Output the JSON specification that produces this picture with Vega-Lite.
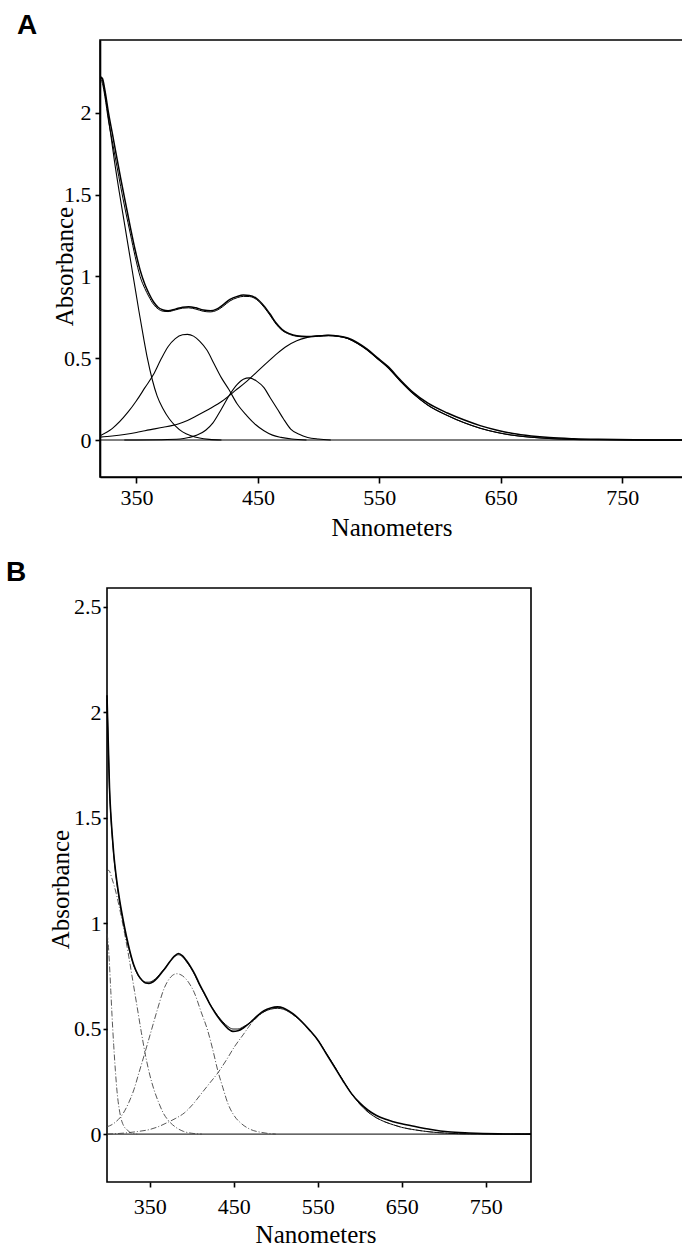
{
  "$schema": "https://vega.github.io/schema/vega-lite/v6.json",
  "background": "white",
  "padding": {"left": 6, "top": 11, "right": 0, "bottom": 0},
  "spacing": 17,
  "datasets": {
    "A": [
      {"s":"zero","nm":320,"a":0},{"s":"zero","nm":800,"a":0},
      {"s":"total","nm":320,"a":2.22},{"s":"total","nm":322,"a":2.21},{"s":"total","nm":324,"a":2.14},{"s":"total","nm":327,"a":2.0},{"s":"total","nm":330,"a":1.88},{"s":"total","nm":334,"a":1.72},{"s":"total","nm":337,"a":1.6},{"s":"total","nm":341,"a":1.45},{"s":"total","nm":345,"a":1.3},{"s":"total","nm":349,"a":1.16},{"s":"total","nm":353,"a":1.04},{"s":"total","nm":357,"a":0.95},{"s":"total","nm":360,"a":0.9},{"s":"total","nm":364,"a":0.845},{"s":"total","nm":368,"a":0.81},{"s":"total","nm":372,"a":0.795},{"s":"total","nm":376,"a":0.79},{"s":"total","nm":382,"a":0.8},{"s":"total","nm":388,"a":0.812},{"s":"total","nm":393,"a":0.815},{"s":"total","nm":399,"a":0.808},{"s":"total","nm":405,"a":0.795},{"s":"total","nm":411,"a":0.79},{"s":"total","nm":416,"a":0.8},{"s":"total","nm":421,"a":0.825},{"s":"total","nm":427,"a":0.86},{"s":"total","nm":433,"a":0.878},{"s":"total","nm":438,"a":0.886},{"s":"total","nm":443,"a":0.884},{"s":"total","nm":449,"a":0.865},{"s":"total","nm":455,"a":0.82},{"s":"total","nm":460,"a":0.77},{"s":"total","nm":465,"a":0.715},{"s":"total","nm":470,"a":0.675},{"s":"total","nm":476,"a":0.65},{"s":"total","nm":482,"a":0.637},{"s":"total","nm":490,"a":0.632},{"s":"total","nm":500,"a":0.636},{"s":"total","nm":508,"a":0.64},{"s":"total","nm":516,"a":0.636},{"s":"total","nm":524,"a":0.624},{"s":"total","nm":532,"a":0.595},{"s":"total","nm":540,"a":0.555},{"s":"total","nm":548,"a":0.505},{"s":"total","nm":557,"a":0.45},{"s":"total","nm":567,"a":0.37},{"s":"total","nm":578,"a":0.29},{"s":"total","nm":590,"a":0.225},{"s":"total","nm":606,"a":0.165},{"s":"total","nm":620,"a":0.122},{"s":"total","nm":633,"a":0.088},{"s":"total","nm":647,"a":0.06},{"s":"total","nm":660,"a":0.04},{"s":"total","nm":675,"a":0.025},{"s":"total","nm":690,"a":0.015},{"s":"total","nm":710,"a":0.008},{"s":"total","nm":730,"a":0.004},{"s":"total","nm":760,"a":0.001},{"s":"total","nm":800,"a":0.0},
      {"s":"fit","nm":320,"a":2.21},{"s":"fit","nm":322,"a":2.18},{"s":"fit","nm":324,"a":2.1},{"s":"fit","nm":327,"a":1.95},{"s":"fit","nm":330,"a":1.83},{"s":"fit","nm":334,"a":1.67},{"s":"fit","nm":337,"a":1.55},{"s":"fit","nm":341,"a":1.4},{"s":"fit","nm":345,"a":1.26},{"s":"fit","nm":349,"a":1.12},{"s":"fit","nm":353,"a":1.0},{"s":"fit","nm":357,"a":0.925},{"s":"fit","nm":360,"a":0.88},{"s":"fit","nm":364,"a":0.83},{"s":"fit","nm":368,"a":0.8},{"s":"fit","nm":372,"a":0.787},{"s":"fit","nm":376,"a":0.785},{"s":"fit","nm":382,"a":0.795},{"s":"fit","nm":388,"a":0.806},{"s":"fit","nm":393,"a":0.808},{"s":"fit","nm":399,"a":0.8},{"s":"fit","nm":405,"a":0.787},{"s":"fit","nm":411,"a":0.783},{"s":"fit","nm":416,"a":0.792},{"s":"fit","nm":421,"a":0.815},{"s":"fit","nm":427,"a":0.85},{"s":"fit","nm":433,"a":0.87},{"s":"fit","nm":438,"a":0.878},{"s":"fit","nm":443,"a":0.877},{"s":"fit","nm":449,"a":0.858},{"s":"fit","nm":455,"a":0.812},{"s":"fit","nm":460,"a":0.762},{"s":"fit","nm":465,"a":0.708},{"s":"fit","nm":470,"a":0.67},{"s":"fit","nm":476,"a":0.646},{"s":"fit","nm":482,"a":0.634},{"s":"fit","nm":490,"a":0.63},{"s":"fit","nm":500,"a":0.634},{"s":"fit","nm":508,"a":0.637},{"s":"fit","nm":516,"a":0.633},{"s":"fit","nm":524,"a":0.62},{"s":"fit","nm":532,"a":0.59},{"s":"fit","nm":540,"a":0.55},{"s":"fit","nm":548,"a":0.5},{"s":"fit","nm":557,"a":0.443},{"s":"fit","nm":567,"a":0.362},{"s":"fit","nm":578,"a":0.282},{"s":"fit","nm":590,"a":0.213},{"s":"fit","nm":606,"a":0.15},{"s":"fit","nm":620,"a":0.105},{"s":"fit","nm":633,"a":0.072},{"s":"fit","nm":647,"a":0.046},{"s":"fit","nm":660,"a":0.029},{"s":"fit","nm":675,"a":0.017},{"s":"fit","nm":690,"a":0.009},{"s":"fit","nm":710,"a":0.004},{"s":"fit","nm":730,"a":0.002},{"s":"fit","nm":760,"a":0.0},{"s":"fit","nm":800,"a":0.0},
      {"s":"uv","nm":320,"a":2.22},{"s":"uv","nm":322,"a":2.2},{"s":"uv","nm":324,"a":2.12},{"s":"uv","nm":326,"a":2.02},{"s":"uv","nm":329,"a":1.86},{"s":"uv","nm":332,"a":1.7},{"s":"uv","nm":336,"a":1.51},{"s":"uv","nm":340,"a":1.33},{"s":"uv","nm":344,"a":1.15},{"s":"uv","nm":348,"a":0.97},{"s":"uv","nm":352,"a":0.79},{"s":"uv","nm":356,"a":0.62},{"s":"uv","nm":359,"a":0.5},{"s":"uv","nm":363,"a":0.37},{"s":"uv","nm":367,"a":0.27},{"s":"uv","nm":372,"a":0.19},{"s":"uv","nm":377,"a":0.13},{"s":"uv","nm":382,"a":0.087},{"s":"uv","nm":388,"a":0.05},{"s":"uv","nm":395,"a":0.026},{"s":"uv","nm":402,"a":0.012},{"s":"uv","nm":410,"a":0.004},{"s":"uv","nm":420,"a":0.0},
      {"s":"b390","nm":320,"a":0.026},{"s":"b390","nm":330,"a":0.07},{"s":"b390","nm":343,"a":0.17},{"s":"b390","nm":350,"a":0.24},{"s":"b390","nm":357,"a":0.32},{"s":"b390","nm":364,"a":0.4},{"s":"b390","nm":370,"a":0.49},{"s":"b390","nm":376,"a":0.57},{"s":"b390","nm":382,"a":0.62},{"s":"b390","nm":388,"a":0.643},{"s":"b390","nm":392,"a":0.646},{"s":"b390","nm":397,"a":0.635},{"s":"b390","nm":402,"a":0.605},{"s":"b390","nm":408,"a":0.55},{"s":"b390","nm":414,"a":0.465},{"s":"b390","nm":420,"a":0.38},{"s":"b390","nm":426,"a":0.31},{"s":"b390","nm":433,"a":0.22},{"s":"b390","nm":441,"a":0.148},{"s":"b390","nm":448,"a":0.095},{"s":"b390","nm":455,"a":0.057},{"s":"b390","nm":462,"a":0.03},{"s":"b390","nm":469,"a":0.016},{"s":"b390","nm":478,"a":0.006},{"s":"b390","nm":490,"a":0.0},
      {"s":"b440","nm":340,"a":0.0},{"s":"b440","nm":370,"a":0.002},{"s":"b440","nm":386,"a":0.006},{"s":"b440","nm":393,"a":0.015},{"s":"b440","nm":400,"a":0.03},{"s":"b440","nm":407,"a":0.06},{"s":"b440","nm":413,"a":0.105},{"s":"b440","nm":420,"a":0.19},{"s":"b440","nm":427,"a":0.28},{"s":"b440","nm":433,"a":0.34},{"s":"b440","nm":438,"a":0.372},{"s":"b440","nm":443,"a":0.38},{"s":"b440","nm":449,"a":0.36},{"s":"b440","nm":455,"a":0.32},{"s":"b440","nm":460,"a":0.26},{"s":"b440","nm":466,"a":0.19},{"s":"b440","nm":471,"a":0.13},{"s":"b440","nm":477,"a":0.067},{"s":"b440","nm":484,"a":0.035},{"s":"b440","nm":491,"a":0.016},{"s":"b440","nm":500,"a":0.006},{"s":"b440","nm":510,"a":0.0},
      {"s":"b510","nm":320,"a":0.018},{"s":"b510","nm":330,"a":0.025},{"s":"b510","nm":340,"a":0.034},{"s":"b510","nm":350,"a":0.046},{"s":"b510","nm":357,"a":0.057},{"s":"b510","nm":365,"a":0.068},{"s":"b510","nm":372,"a":0.078},{"s":"b510","nm":379,"a":0.088},{"s":"b510","nm":385,"a":0.1},{"s":"b510","nm":392,"a":0.12},{"s":"b510","nm":400,"a":0.15},{"s":"b510","nm":410,"a":0.19},{"s":"b510","nm":421,"a":0.24},{"s":"b510","nm":431,"a":0.3},{"s":"b510","nm":441,"a":0.36},{"s":"b510","nm":449,"a":0.415},{"s":"b510","nm":457,"a":0.47},{"s":"b510","nm":466,"a":0.53},{"s":"b510","nm":474,"a":0.575},{"s":"b510","nm":482,"a":0.607},{"s":"b510","nm":490,"a":0.626},{"s":"b510","nm":498,"a":0.637},{"s":"b510","nm":507,"a":0.64},{"s":"b510","nm":516,"a":0.634},{"s":"b510","nm":524,"a":0.62},{"s":"b510","nm":532,"a":0.59},{"s":"b510","nm":540,"a":0.55},{"s":"b510","nm":548,"a":0.5},{"s":"b510","nm":557,"a":0.443},{"s":"b510","nm":567,"a":0.362},{"s":"b510","nm":578,"a":0.282},{"s":"b510","nm":590,"a":0.213},{"s":"b510","nm":606,"a":0.15},{"s":"b510","nm":620,"a":0.105},{"s":"b510","nm":633,"a":0.072},{"s":"b510","nm":647,"a":0.046},{"s":"b510","nm":660,"a":0.029},{"s":"b510","nm":675,"a":0.017},{"s":"b510","nm":690,"a":0.009},{"s":"b510","nm":710,"a":0.004},{"s":"b510","nm":730,"a":0.002},{"s":"b510","nm":760,"a":0.0},{"s":"b510","nm":800,"a":0.0}
    ],
    "B": [
      {"s":"zero","nm":299,"a":0},{"s":"zero","nm":804,"a":0},
      {"s":"total","nm":299,"a":2.08},{"s":"total","nm":300,"a":1.93},{"s":"total","nm":301,"a":1.78},{"s":"total","nm":302,"a":1.64},{"s":"total","nm":303.5,"a":1.52},{"s":"total","nm":305,"a":1.43},{"s":"total","nm":307,"a":1.33},{"s":"total","nm":310,"a":1.22},{"s":"total","nm":314,"a":1.11},{"s":"total","nm":318,"a":1.02},{"s":"total","nm":322,"a":0.94},{"s":"total","nm":326,"a":0.87},{"s":"total","nm":331,"a":0.8},{"s":"total","nm":336,"a":0.755},{"s":"total","nm":341,"a":0.728},{"s":"total","nm":345,"a":0.716},{"s":"total","nm":349,"a":0.714},{"s":"total","nm":354,"a":0.722},{"s":"total","nm":359,"a":0.74},{"s":"total","nm":364,"a":0.765},{"s":"total","nm":369,"a":0.79},{"s":"total","nm":374,"a":0.818},{"s":"total","nm":379,"a":0.842},{"s":"total","nm":384,"a":0.856},{"s":"total","nm":389,"a":0.845},{"s":"total","nm":394,"a":0.82},{"s":"total","nm":399,"a":0.79},{"s":"total","nm":404,"a":0.755},{"s":"total","nm":409,"a":0.712},{"s":"total","nm":415,"a":0.667},{"s":"total","nm":421,"a":0.62},{"s":"total","nm":427,"a":0.58},{"s":"total","nm":431,"a":0.556},{"s":"total","nm":437,"a":0.525},{"s":"total","nm":443,"a":0.5},{"s":"total","nm":449,"a":0.487},{"s":"total","nm":455,"a":0.49},{"s":"total","nm":462,"a":0.505},{"s":"total","nm":470,"a":0.53},{"s":"total","nm":478,"a":0.56},{"s":"total","nm":486,"a":0.585},{"s":"total","nm":494,"a":0.598},{"s":"total","nm":502,"a":0.603},{"s":"total","nm":509,"a":0.598},{"s":"total","nm":516,"a":0.583},{"s":"total","nm":523,"a":0.563},{"s":"total","nm":530,"a":0.537},{"s":"total","nm":540,"a":0.494},{"s":"total","nm":550,"a":0.446},{"s":"total","nm":560,"a":0.382},{"s":"total","nm":570,"a":0.318},{"s":"total","nm":580,"a":0.253},{"s":"total","nm":590,"a":0.193},{"s":"total","nm":600,"a":0.148},{"s":"total","nm":610,"a":0.113},{"s":"total","nm":620,"a":0.088},{"s":"total","nm":630,"a":0.071},{"s":"total","nm":640,"a":0.059},{"s":"total","nm":650,"a":0.049},{"s":"total","nm":666,"a":0.036},{"s":"total","nm":685,"a":0.022},{"s":"total","nm":705,"a":0.011},{"s":"total","nm":730,"a":0.005},{"s":"total","nm":765,"a":0.001},{"s":"total","nm":804,"a":0.0},
      {"s":"fit","nm":299,"a":2.06},{"s":"fit","nm":300,"a":1.92},{"s":"fit","nm":301,"a":1.77},{"s":"fit","nm":302,"a":1.63},{"s":"fit","nm":303.5,"a":1.51},{"s":"fit","nm":305,"a":1.42},{"s":"fit","nm":307,"a":1.32},{"s":"fit","nm":310,"a":1.21},{"s":"fit","nm":314,"a":1.1},{"s":"fit","nm":318,"a":1.01},{"s":"fit","nm":322,"a":0.93},{"s":"fit","nm":326,"a":0.865},{"s":"fit","nm":331,"a":0.797},{"s":"fit","nm":336,"a":0.753},{"s":"fit","nm":341,"a":0.728},{"s":"fit","nm":345,"a":0.72},{"s":"fit","nm":349,"a":0.72},{"s":"fit","nm":354,"a":0.728},{"s":"fit","nm":359,"a":0.745},{"s":"fit","nm":364,"a":0.768},{"s":"fit","nm":369,"a":0.792},{"s":"fit","nm":374,"a":0.818},{"s":"fit","nm":379,"a":0.84},{"s":"fit","nm":384,"a":0.85},{"s":"fit","nm":389,"a":0.84},{"s":"fit","nm":394,"a":0.815},{"s":"fit","nm":399,"a":0.786},{"s":"fit","nm":404,"a":0.75},{"s":"fit","nm":409,"a":0.708},{"s":"fit","nm":415,"a":0.664},{"s":"fit","nm":421,"a":0.62},{"s":"fit","nm":427,"a":0.582},{"s":"fit","nm":431,"a":0.56},{"s":"fit","nm":437,"a":0.532},{"s":"fit","nm":443,"a":0.51},{"s":"fit","nm":449,"a":0.498},{"s":"fit","nm":455,"a":0.498},{"s":"fit","nm":462,"a":0.51},{"s":"fit","nm":470,"a":0.53},{"s":"fit","nm":478,"a":0.558},{"s":"fit","nm":486,"a":0.58},{"s":"fit","nm":494,"a":0.592},{"s":"fit","nm":502,"a":0.596},{"s":"fit","nm":509,"a":0.592},{"s":"fit","nm":516,"a":0.578},{"s":"fit","nm":523,"a":0.559},{"s":"fit","nm":530,"a":0.535},{"s":"fit","nm":540,"a":0.493},{"s":"fit","nm":550,"a":0.446},{"s":"fit","nm":560,"a":0.384},{"s":"fit","nm":570,"a":0.32},{"s":"fit","nm":580,"a":0.255},{"s":"fit","nm":590,"a":0.193},{"s":"fit","nm":600,"a":0.143},{"s":"fit","nm":610,"a":0.104},{"s":"fit","nm":620,"a":0.077},{"s":"fit","nm":630,"a":0.058},{"s":"fit","nm":640,"a":0.044},{"s":"fit","nm":650,"a":0.032},{"s":"fit","nm":666,"a":0.02},{"s":"fit","nm":685,"a":0.01},{"s":"fit","nm":705,"a":0.004},{"s":"fit","nm":730,"a":0.001},{"s":"fit","nm":765,"a":0.0},{"s":"fit","nm":804,"a":0.0},
      {"s":"uv1","nm":299,"a":0.95},{"s":"uv1","nm":300.5,"a":0.9},{"s":"uv1","nm":302,"a":0.8},{"s":"uv1","nm":303.5,"a":0.68},{"s":"uv1","nm":305,"a":0.56},{"s":"uv1","nm":307,"a":0.42},{"s":"uv1","nm":309,"a":0.3},{"s":"uv1","nm":311,"a":0.2},{"s":"uv1","nm":313.5,"a":0.12},{"s":"uv1","nm":316,"a":0.07},{"s":"uv1","nm":319.5,"a":0.035},{"s":"uv1","nm":323.5,"a":0.018},{"s":"uv1","nm":327.5,"a":0.006},{"s":"uv1","nm":335,"a":0.0},
      {"s":"uv2","nm":299,"a":1.24},{"s":"uv2","nm":301,"a":1.25},{"s":"uv2","nm":305,"a":1.21},{"s":"uv2","nm":310,"a":1.14},{"s":"uv2","nm":315,"a":1.05},{"s":"uv2","nm":320,"a":0.95},{"s":"uv2","nm":325,"a":0.84},{"s":"uv2","nm":330,"a":0.72},{"s":"uv2","nm":335,"a":0.6},{"s":"uv2","nm":340,"a":0.48},{"s":"uv2","nm":345,"a":0.37},{"s":"uv2","nm":350,"a":0.28},{"s":"uv2","nm":355,"a":0.21},{"s":"uv2","nm":360,"a":0.155},{"s":"uv2","nm":366,"a":0.1},{"s":"uv2","nm":372,"a":0.065},{"s":"uv2","nm":380,"a":0.035},{"s":"uv2","nm":390,"a":0.013},{"s":"uv2","nm":400,"a":0.004},{"s":"uv2","nm":412,"a":0.0},
      {"s":"b380","nm":299,"a":0.035},{"s":"b380","nm":305,"a":0.045},{"s":"b380","nm":310,"a":0.06},{"s":"b380","nm":315,"a":0.08},{"s":"b380","nm":320,"a":0.11},{"s":"b380","nm":325,"a":0.15},{"s":"b380","nm":331,"a":0.21},{"s":"b380","nm":337,"a":0.29},{"s":"b380","nm":343,"a":0.37},{"s":"b380","nm":351,"a":0.48},{"s":"b380","nm":359,"a":0.59},{"s":"b380","nm":367,"a":0.69},{"s":"b380","nm":374,"a":0.74},{"s":"b380","nm":382,"a":0.76},{"s":"b380","nm":389,"a":0.75},{"s":"b380","nm":396,"a":0.72},{"s":"b380","nm":403,"a":0.67},{"s":"b380","nm":411,"a":0.58},{"s":"b380","nm":419,"a":0.49},{"s":"b380","nm":425,"a":0.4},{"s":"b380","nm":431,"a":0.3},{"s":"b380","nm":437,"a":0.22},{"s":"b380","nm":443,"a":0.145},{"s":"b380","nm":450,"a":0.09},{"s":"b380","nm":459,"a":0.05},{"s":"b380","nm":470,"a":0.022},{"s":"b380","nm":483,"a":0.008},{"s":"b380","nm":500,"a":0.0},
      {"s":"b500","nm":299,"a":0.0},{"s":"b500","nm":320,"a":0.005},{"s":"b500","nm":335,"a":0.012},{"s":"b500","nm":350,"a":0.022},{"s":"b500","nm":360,"a":0.035},{"s":"b500","nm":371,"a":0.055},{"s":"b500","nm":381,"a":0.075},{"s":"b500","nm":391,"a":0.1},{"s":"b500","nm":401,"a":0.14},{"s":"b500","nm":411,"a":0.19},{"s":"b500","nm":421,"a":0.24},{"s":"b500","nm":431,"a":0.29},{"s":"b500","nm":441,"a":0.35},{"s":"b500","nm":451,"a":0.415},{"s":"b500","nm":461,"a":0.47},{"s":"b500","nm":471,"a":0.525},{"s":"b500","nm":481,"a":0.565},{"s":"b500","nm":491,"a":0.59},{"s":"b500","nm":500,"a":0.6},{"s":"b500","nm":509,"a":0.595},{"s":"b500","nm":516,"a":0.58},{"s":"b500","nm":523,"a":0.559},{"s":"b500","nm":530,"a":0.535},{"s":"b500","nm":540,"a":0.493},{"s":"b500","nm":550,"a":0.446},{"s":"b500","nm":560,"a":0.384},{"s":"b500","nm":570,"a":0.32},{"s":"b500","nm":580,"a":0.255},{"s":"b500","nm":590,"a":0.193},{"s":"b500","nm":600,"a":0.143},{"s":"b500","nm":610,"a":0.104},{"s":"b500","nm":620,"a":0.077},{"s":"b500","nm":630,"a":0.058},{"s":"b500","nm":640,"a":0.044},{"s":"b500","nm":650,"a":0.032},{"s":"b500","nm":666,"a":0.02},{"s":"b500","nm":685,"a":0.01},{"s":"b500","nm":705,"a":0.004},{"s":"b500","nm":730,"a":0.001},{"s":"b500","nm":765,"a":0.0},{"s":"b500","nm":804,"a":0.0}
    ],
    "Bframe": [
      {"x1": 299, "x2": 804, "y1": -0.227, "y2": 2.588}
    ]
  },
  "vconcat": [
    {
      "width": 583,
      "height": 437,
      "title": {"text": "A", "anchor": "start", "frame": "group", "dx": -83, "offset": -22, "baseline": "alphabetic", "font": "Liberation Sans", "fontSize": 28, "fontWeight": "bold", "color": "black"},
      "data": {"name": "A"},
      "encoding": {
        "x": {"field": "nm", "type": "quantitative", "scale": {"domain": [320, 800], "nice": false, "zero": false},
              "axis": {"values": [350, 450, 550, 650, 750], "format": "d", "tickSize": 6, "labelPadding": 4, "title": "Nanometers", "titleY": 38.5, "titleBaseline": "top"}},
        "y": {"field": "a", "type": "quantitative", "scale": {"domain": [-0.226, 2.445], "nice": false, "zero": false},
              "axis": {"values": [0, 0.5, 1, 1.5, 2], "format": "~g", "tickSize": 5, "labelPadding": 4, "title": "Absorbance", "titleX": -28, "titleY": 226, "titleAngle": 270, "titleAlign": "center", "titleBaseline": "alphabetic"}},
        "detail": {"field": "s", "type": "nominal"}
      },
      "layer": [
        {"transform": [{"filter": "datum.s !== 'total' && datum.s !== 'fit'"}],
         "mark": {"type": "line", "interpolate": "monotone", "clip": true, "color": "black", "strokeWidth": 1.1}},
        {"transform": [{"filter": "datum.s === 'fit'"}],
         "mark": {"type": "line", "interpolate": "monotone", "clip": true, "color": "black", "strokeWidth": 1.0}},
        {"transform": [{"filter": "datum.s === 'total'"}],
         "mark": {"type": "line", "interpolate": "monotone", "clip": true, "color": "black", "strokeWidth": 1.5}}
      ]
    },
    {
      "width": 431,
      "height": 594,
      "view": {"stroke": null},
      "title": {"text": "B", "anchor": "start", "frame": "group", "dx": -94, "offset": -22, "baseline": "alphabetic", "font": "Liberation Sans", "fontSize": 28, "fontWeight": "bold", "color": "black"},
      "layer": [
        {"data": {"name": "Bframe"},
         "mark": {"type": "rect", "fill": null, "fillOpacity": 0, "stroke": "black", "strokeWidth": 1.6},
         "encoding": {
           "x": {"field": "x1", "type": "quantitative", "scale": {"domain": [290.66, 804], "nice": false, "zero": false},
                 "axis": {"values": [350, 450, 550, 650, 750], "format": "d", "domain": false, "tickSize": 5, "labelPadding": 9, "title": "Nanometers", "titleY": 40.5, "titleBaseline": "top"}},
           "x2": {"field": "x2"},
           "y": {"field": "y1", "type": "quantitative", "scale": {"domain": [-0.227, 2.588], "nice": false, "zero": false},
                 "axis": {"values": [0, 0.5, 1, 1.5, 2, 2.5], "format": "~g", "domain": false, "offset": -7, "tickSize": 4, "labelPadding": 2, "title": "Absorbance", "titleX": -39, "titleY": 301, "titleAngle": 270, "titleAlign": "center", "titleBaseline": "alphabetic"}},
           "y2": {"field": "y2"}
         }},
        {"data": {"name": "B"},
         "encoding": {
           "x": {"field": "nm", "type": "quantitative", "scale": {"domain": [290.66, 804], "nice": false, "zero": false},
                 "axis": {"values": [350, 450, 550, 650, 750], "format": "d", "domain": false, "tickSize": 5, "labelPadding": 9, "title": "Nanometers", "titleY": 40.5, "titleBaseline": "top"}},
           "y": {"field": "a", "type": "quantitative", "scale": {"domain": [-0.227, 2.588], "nice": false, "zero": false},
                 "axis": {"values": [0, 0.5, 1, 1.5, 2, 2.5], "format": "~g", "domain": false, "offset": -7, "tickSize": 4, "labelPadding": 2, "title": "Absorbance", "titleX": -39, "titleY": 301, "titleAngle": 270, "titleAlign": "center", "titleBaseline": "alphabetic"}},
           "detail": {"field": "s", "type": "nominal"}
         },
         "layer": [
          {"transform": [{"filter": "datum.s === 'zero'"}],
           "mark": {"type": "line", "clip": true, "color": "black", "strokeWidth": 1.0}},
          {"transform": [{"filter": "datum.s !== 'total' && datum.s !== 'fit' && datum.s !== 'zero'"}],
           "mark": {"type": "line", "interpolate": "monotone", "clip": true, "color": "#444", "strokeWidth": 0.9, "strokeDash": [6, 2, 1, 2]}},
          {"transform": [{"filter": "datum.s === 'fit'"}],
           "mark": {"type": "line", "interpolate": "monotone", "clip": true, "color": "black", "strokeWidth": 0.9}},
          {"transform": [{"filter": "datum.s === 'total'"}],
           "mark": {"type": "line", "interpolate": "monotone", "clip": true, "color": "black", "strokeWidth": 1.6}}
         ]}
      ]
    }
  ],
  "config": {
    "view": {"stroke": "black", "strokeWidth": 1.6},
    "axis": {"domainColor": "black", "domainWidth": 1.6, "tickColor": "black", "tickWidth": 1.6, "labelColor": "black", "titleColor": "black", "labelFont": "Liberation Serif", "titleFont": "Liberation Serif", "labelFontSize": 22, "titleFontSize": 25, "titleFontWeight": "normal", "grid": false}
  }
}
